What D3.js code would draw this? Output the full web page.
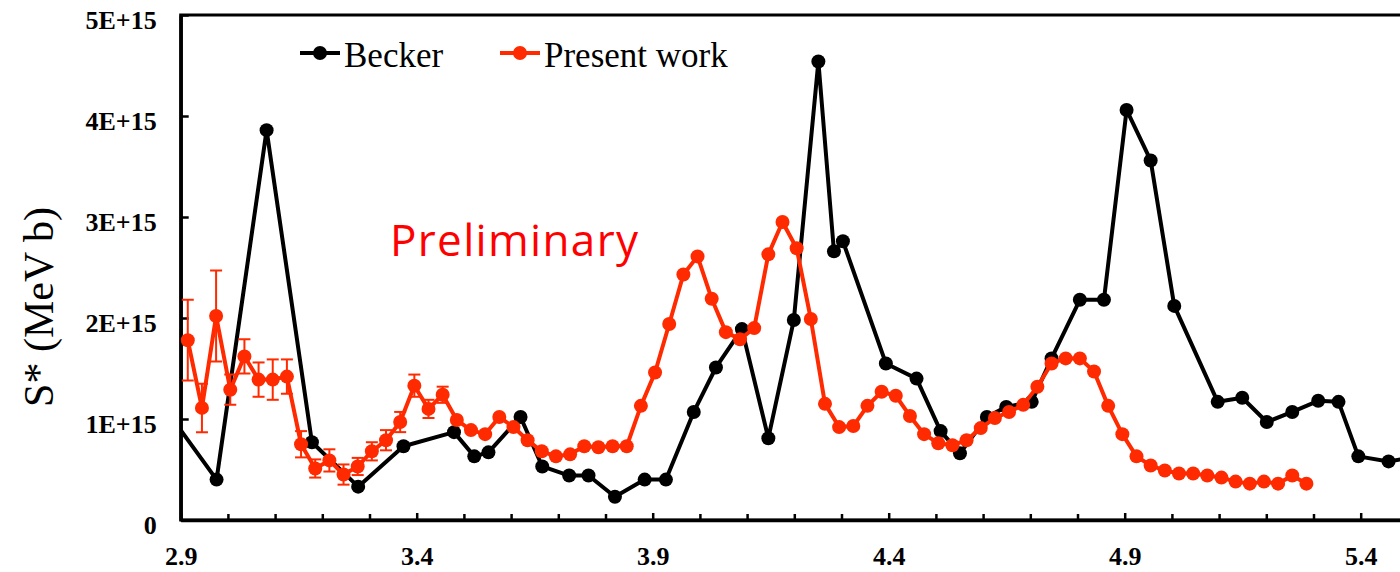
<!DOCTYPE html>
<html>
<head>
<meta charset="utf-8">
<script src="https://cdn.jsdelivr.net/npm/d3@7"></script>
<style>
  body { margin: 0; background: #fff; }
  svg { display: block; }
</style>
</head>
<body>
<div id="graph"></div>
<script>
// S* factor vs energy: Becker data against present work (values in units of 1E+15 MeV b)
const beckerE = [2.88, 2.976, 3.082, 3.178, 3.276, 3.372, 3.479, 3.522, 3.552, 3.620, 3.666, 3.723, 3.764, 3.820, 3.883, 3.928,
    3.987, 4.034, 4.089, 4.145, 4.199, 4.251, 4.284, 4.303, 4.394, 4.459, 4.510, 4.551, 4.608, 4.649, 4.703, 4.745,
    4.805, 4.856, 4.904, 4.955, 5.005, 5.097, 5.149, 5.201, 5.255, 5.310, 5.353, 5.395, 5.459, 5.52];
const beckerS = [1.02, 0.40, 3.86, 0.77, 0.33, 0.73, 0.87, 0.63, 0.67, 1.02, 0.53, 0.44, 0.44, 0.23, 0.40, 0.40,
    1.07, 1.51, 1.89, 0.81, 1.98, 4.54, 2.66, 2.76, 1.55, 1.40, 0.88, 0.66, 1.02, 1.12, 1.17, 1.60,
    2.18, 2.18, 4.06, 3.56, 2.12, 1.17, 1.21, 0.97, 1.07, 1.18, 1.17, 0.63, 0.58, 0.63];

const presentE = [2.915, 2.945, 2.975, 3.005, 3.035, 3.065, 3.095, 3.125, 3.155, 3.185, 3.215, 3.245, 3.275, 3.305, 3.335, 3.365,
    3.395, 3.425, 3.455, 3.485, 3.515, 3.545, 3.575, 3.605, 3.635, 3.665, 3.695, 3.725, 3.755, 3.785, 3.815, 3.845,
    3.875, 3.905, 3.935, 3.965, 3.995, 4.025, 4.055, 4.085, 4.115, 4.145, 4.175, 4.205, 4.235, 4.265, 4.295, 4.325,
    4.355, 4.385, 4.415, 4.445, 4.475, 4.505, 4.535, 4.565, 4.595, 4.625, 4.655, 4.685, 4.715, 4.745, 4.775, 4.805,
    4.835, 4.865, 4.895, 4.925, 4.955, 4.985, 5.015, 5.045, 5.075, 5.105, 5.135, 5.165, 5.195, 5.225, 5.255, 5.285];
const presentS = [1.78, 1.11, 2.02, 1.29, 1.62, 1.39, 1.39, 1.42, 0.75, 0.51, 0.59, 0.45, 0.53, 0.68, 0.79, 0.97,
    1.33, 1.10, 1.24, 0.99, 0.89, 0.85, 1.02, 0.92, 0.79, 0.68, 0.63, 0.65, 0.73, 0.72, 0.73, 0.73,
    1.13, 1.46, 1.94, 2.43, 2.61, 2.19, 1.86, 1.79, 1.90, 2.63, 2.95, 2.69, 1.99, 1.15, 0.92, 0.93,
    1.13, 1.27, 1.23, 1.03, 0.85, 0.76, 0.74, 0.79, 0.91, 1.01, 1.07, 1.14, 1.32, 1.55, 1.60, 1.60,
    1.47, 1.13, 0.85, 0.63, 0.54, 0.49, 0.46, 0.46, 0.44, 0.42, 0.38, 0.36, 0.38, 0.36, 0.44, 0.36];
const presentErr = [0.40, 0.24, 0.45, 0.15, 0.17, 0.17, 0.20, 0.17, 0.13, 0.09, 0.11, 0.10, 0.085, 0.09, 0.10, 0.10,
    0.11, 0.09, 0.08];

const xTicks = [2.9, 3.4, 3.9, 4.4, 4.9, 5.4];
const xMinorTicks = [3.0, 3.1, 3.2, 3.3, 3.5, 3.6, 3.7, 3.8, 4.0, 4.1, 4.2, 4.3, 4.5, 4.6, 4.7, 4.8, 5.0, 5.1, 5.2, 5.3];
const yTicks = [0, 1, 2, 3, 4, 5];
const yTickLabels = ["0", "1E+15", "2E+15", "3E+15", "4E+15", "5E+15"];
const seriesNames = ["Becker", "Present work"];

const W = 1400, H = 572;
const margin = {top: 15, left: 180.7, bottom: 52};
const height = H - margin.top - margin.bottom;
const RED = "#ff2a00";

const x = d3.scaleLinear().domain([2.9, 5.5]).range([margin.left, margin.left + 2.6 * 472]);
const y = d3.scaleLinear().domain([0, 5]).range([margin.top + height, margin.top]);

const svg = d3.select("#graph").append("svg")
    .attr("width", W)
    .attr("height", H)
    .style("font-family", "'Liberation Serif', 'Times New Roman', serif");

svg.append("clipPath").attr("id", "plot")
    .append("rect")
        .attr("x", x(2.9)).attr("y", margin.top - 10)
        .attr("width", W).attr("height", height + 10);

// frame
svg.append("rect")
    .attr("x", x(2.9)).attr("y", y(5))
    .attr("width", x(5.5) - x(2.9)).attr("height", y(0) - y(5))
    .attr("fill", "none").attr("stroke", "#000").attr("stroke-width", 3);

// x axis: minor then major ticks, pointing inward
svg.append("g")
    .attr("transform", `translate(0, ${y(0)})`)
    .call(d3.axisBottom(x).tickValues(xMinorTicks).tickSizeInner(-6).tickSizeOuter(0).tickFormat(""))
    .call(g => g.select(".domain").remove())
    .call(g => g.selectAll(".tick line").attr("stroke-width", 2.5));

const xAxis = svg.append("g")
    .attr("transform", `translate(0, ${y(0)})`)
    .call(d3.axisBottom(x).tickValues(xTicks).tickSizeInner(-7).tickSizeOuter(0).tickPadding(27)
        .tickFormat(d3.format(".1f")));
xAxis.select(".domain").attr("stroke-width", 3.5);
xAxis.selectAll(".tick line").attr("stroke-width", 2.5);
xAxis.selectAll("text")
    .attr("font-size", 26).attr("font-weight", "bold").attr("fill", "#000")
    .attr("font-family", "'Liberation Serif', serif");

const yAxis = svg.append("g")
    .attr("transform", `translate(${x(2.9)}, 0)`)
    .call(d3.axisLeft(y).tickValues(yTicks).tickSizeInner(-8).tickSizeOuter(0).tickPadding(24)
        .tickFormat((d, i) => yTickLabels[i]));
yAxis.select(".domain").attr("stroke-width", 3.5);
yAxis.selectAll(".tick line").attr("stroke-width", 2.5);
yAxis.selectAll("text")
    .attr("font-size", 26).attr("font-weight", "bold").attr("fill", "#000").attr("dy", "0.5em")
    .attr("font-family", "'Liberation Serif', serif");

svg.append("text")
    .attr("transform", "translate(53, 307) rotate(-90)")
    .attr("text-anchor", "middle")
    .attr("font-size", 42)
    .text("S* (MeV b)");

svg.append("text")
    .attr("x", 390).attr("y", 256)
    .attr("font-family", "'Open Sans', sans-serif")
    .attr("font-size", 44)
    .attr("textLength", 248)
    .attr("fill", "#ff0000")
    .text("Preliminary");

const becker = beckerE.map((e, i) => ({e, s: beckerS[i]}));
const present = presentE.map((e, i) => ({e, s: presentS[i], err: presentErr[i] || 0}));

const line = d3.line().x(d => x(d.e)).y(d => y(d.s));
const plot = svg.append("g").attr("clip-path", "url(#plot)");

plot.append("path")
    .datum(becker)
    .attr("fill", "none").attr("stroke", "#000").attr("stroke-width", 4)
    .attr("stroke-linejoin", "round")
    .attr("d", line);
plot.selectAll(".bk").data(becker).join("circle")
    .attr("cx", d => x(d.e)).attr("cy", d => y(d.s)).attr("r", 7).attr("fill", "#000");

// error bars for present work
const bars = plot.selectAll(".err").data(present.filter(d => d.err > 0)).join("g")
    .attr("stroke", RED).attr("stroke-width", 2);
bars.append("line")
    .attr("x1", d => x(d.e)).attr("x2", d => x(d.e))
    .attr("y1", d => y(d.s + d.err)).attr("y2", d => y(d.s - d.err));
bars.append("line")
    .attr("x1", d => x(d.e) - 6).attr("x2", d => x(d.e) + 6)
    .attr("y1", d => y(d.s + d.err)).attr("y2", d => y(d.s + d.err));
bars.append("line")
    .attr("x1", d => x(d.e) - 6).attr("x2", d => x(d.e) + 6)
    .attr("y1", d => y(d.s - d.err)).attr("y2", d => y(d.s - d.err));

plot.append("path")
    .datum(present)
    .attr("fill", "none").attr("stroke", RED).attr("stroke-width", 4)
    .attr("stroke-linejoin", "round")
    .attr("d", line);
plot.selectAll(".pw").data(present).join("circle")
    .attr("cx", d => x(d.e)).attr("cy", d => y(d.s)).attr("r", 7).attr("fill", RED);

// legend
const legend = svg.append("g");
[{c: "#000", x0: 300}, {c: RED, x0: 500}].forEach((d, i) => {
    legend.append("line")
        .attr("x1", d.x0).attr("x2", d.x0 + 40).attr("y1", 53).attr("y2", 53)
        .attr("stroke", d.c).attr("stroke-width", 4);
    legend.append("circle")
        .attr("cx", d.x0 + 20).attr("cy", 53).attr("r", 7).attr("fill", d.c);
    legend.append("text")
        .attr("x", d.x0 + 44).attr("y", 67)
        .attr("font-size", 35)
        .text(seriesNames[i]);
});
</script>
</body>
</html>
